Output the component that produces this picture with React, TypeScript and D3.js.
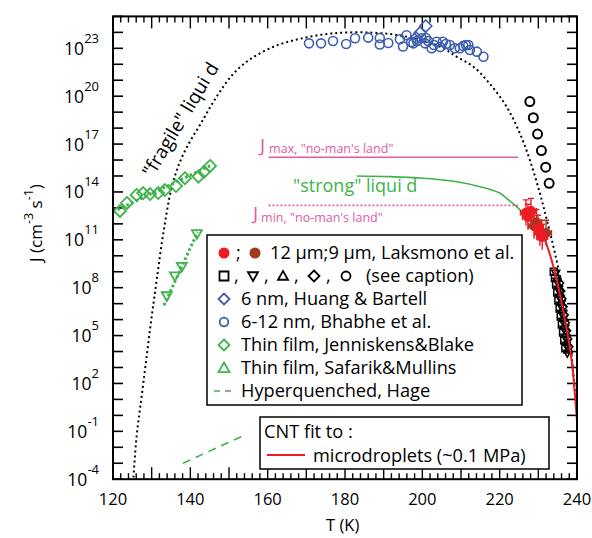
import React from 'react';
import * as d3 from 'd3';

const W = 592, H = 538;
const FX0 = 113, FX1 = 577, FY0 = 16.4, FY1 = 479.2;
const FONT = "'Open Sans', 'Noto Sans', sans-serif";

const xTickLabels = [120, 140, 160, 180, 200, 220, 240];
const yLabelExps = [-4, -1, 2, 5, 8, 11, 14, 17, 20, 23];

const BLUE = '#3b5daf', GREEN = '#3cb44a', MAGENTA = '#e15aa5', RED = '#ed1c24', BROWN = '#a0391e';

// "fragile" liquid dotted curve (T, log10 J)
const fragileT = [125.2, 126.1, 127.4, 128.7, 130.0, 131.3, 133.0, 135.2, 137.5, 140.0, 142.5, 145.1, 147.7, 151.1, 155.4, 161.5, 168.4, 177.0, 187.3, 195.9, 204.6, 208.9, 213.2, 217.5, 221.8, 225.2, 227.8, 230.4, 232.2, 234.3, 237.3, 239.6, 240.3];
const fragileLogJ = [-4.2, -1.33, 1.17, 3.68, 6.18, 8.48, 11.4, 14.3, 16.0, 17.2, 18.2, 19.3, 20.3, 21.4, 22.3, 23.1, 23.6, 23.94, 23.98, 23.73, 23.1, 22.47, 21.85, 20.76, 19.34, 17.68, 16.0, 13.92, 12.24, 10.16, 6.6, 1.15, -0.5];

// "strong" liquid green curve
const strongT = [183.0, 191.6, 200.2, 208.9, 214.9, 220.1, 221.8, 224.4, 226.1];
const strongLogJ = [15.0, 14.96, 14.86, 14.64, 14.33, 13.92, 13.6, 13.08, 12.66];

// CNT fit (red)
const cntT = [226.1, 228.6, 231.3, 233.9, 236.4, 238.6, 239.5, 240.2];
const cntLogJ = [12.56, 12.12, 11.2, 9.32, 6.6, 3.47, 1.17, -1.0];

// J max / J min no-man's land lines
const jLineT = [160.2, 224.8];
const jMaxLogJ = 16.17;
const jMinLogJ = 13.16;

// Bhabhe et al. 6-12 nm (blue circles)
const bhabheT = [170.7, 173.8, 176.9, 180.3, 182.6, 186.0, 189.0, 189.0, 191.2, 194.2, 195.0, 195.9, 197.1, 197.7, 198.6, 199.8, 200.7, 201.5, 202.4, 203.7, 204.6, 205.3, 206.1, 207.1, 208.4, 209.7, 210.6, 211.3, 211.9, 212.3, 214.1, 215.8, 203.0, 200.9];
const bhabheLogJ = [23.31, 23.31, 23.46, 23.27, 23.63, 23.67, 23.65, 23.24, 23.33, 23.57, 23.11, 23.82, 23.40, 23.31, 23.46, 23.63, 23.31, 23.46, 23.0, 23.41, 23.08, 23.41, 23.27, 23.21, 23.0, 23.0, 23.15, 23.21, 23.21, 22.89, 22.79, 22.47, 23.21, 23.65];

// Huang & Bartell 6 nm (blue diamonds)
const huangT = [200.9, 199.4, 198.4];
const huangLogJ = [24.4, 23.96, 23.65];

// Black circles (see caption)
const circT = [227.8, 228.7, 229.8, 230.8, 231.9, 232.8];
const circLogJ = [19.66, 18.65, 17.63, 16.59, 15.55, 14.54];

// Black squares / triangles / diamonds (see caption)
const sqT = [234.0, 234.3, 234.6, 234.9, 235.2, 235.5, 235.8, 236.1, 236.4, 236.7, 237.0];
const sqLogJ = [9.0, 8.6, 8.2, 7.7, 7.2, 6.7, 6.2, 5.7, 5.2, 4.7, 4.2];
const dnT = [234.5, 234.8, 235.1, 235.4, 235.7, 236.0, 236.3, 236.6, 236.9, 237.2, 237.5];
const dnLogJ = [8.9, 8.4, 7.9, 7.4, 6.9, 6.4, 5.9, 5.4, 4.9, 4.4, 3.9];
const upT = [235.0, 235.3, 235.6, 235.9, 236.2, 236.5, 236.8, 237.1, 237.4, 237.7];
const upLogJ = [8.6, 8.1, 7.6, 7.1, 6.6, 6.1, 5.6, 5.1, 4.6, 4.1];
const diaT = [235.5, 235.8, 236.1, 236.4, 236.7, 237.0, 237.3, 237.6, 237.9];
const diaLogJ = [8.3, 7.8, 7.3, 6.8, 6.3, 5.8, 5.3, 4.8, 4.3];

// Laksmono et al. 12 um (red) and 9 um (brown)
const redT = [226.8, 227.3, 228.1, 229.9, 230.4, 231.0];
const redLogJ = [12.7, 12.43, 12.8, 11.74, 11.43, 11.18];
const brownT = [228.9, 229.5, 232.0];
const brownLogJ = [11.87, 12.1, 11.43];
const errT = 1.4;
const errLogJ = 0.8;

// Jenniskens & Blake thin film (green diamonds)
const jennT = [121.8, 123.6, 126.1, 127.8, 129.6, 131.7, 133.4, 136.3, 138.6, 142.1, 143.5, 145.1];
const jennLogJ = [12.81, 13.31, 13.81, 13.93, 13.87, 13.93, 14.12, 14.37, 14.86, 14.96, 15.25, 15.63];
const jennLineT = [120.0, 145.6];
const jennLineLogJ = [12.75, 15.7];

// Safarik & Mullins thin film (green triangles)
const safT = [133.9, 136.0, 137.8, 141.7];
const safLogJ = [7.48, 8.73, 9.32, 11.37];
const safLineT = [133.2, 141.9];
const safLineLogJ = [6.9, 11.5];

// Hyperquenched, Hage (green dashed)
const hageT = [138.1, 154.4];
const hageLogJ = [-3.0, -1.2];

const legendLabels = [
  '12 \u03bcm;9 \u03bcm, Laksmono et al.',
  '(see caption)',
  '6 nm, Huang & Bartell',
  '6-12 nm, Bhabhe  et al.',
  'Thin film, Jenniskens&Blake',
  'Thin film, Safarik&Mullins',
  'Hyperquenched, Hage',
];

const x = d3.scaleLinear().domain([120, 240]).range([FX0, FX1]);
const y = d3.scaleLinear().domain([-4, 25]).range([FY1, FY0]);

const sq = (cx: number, cy: number, s: number) => `M${cx - s},${cy - s}H${cx + s}V${cy + s}H${cx - s}Z`;
const dia = (cx: number, cy: number, s: number) => `M${cx},${cy - s}L${cx + s},${cy}L${cx},${cy + s}L${cx - s},${cy}Z`;
const triUp = (cx: number, cy: number, s: number) => `M${cx},${cy - s}L${cx + s},${cy + s * 0.75}L${cx - s},${cy + s * 0.75}Z`;
const triDn = (cx: number, cy: number, s: number) => `M${cx},${cy + s}L${cx + s},${cy - s * 0.75}L${cx - s},${cy - s * 0.75}Z`;

function linePath(ts: number[], ls: number[], curve: any = d3.curveCatmullRom) {
  const pts = ts.map((t, i) => [t, ls[i]] as [number, number]);
  return d3.line<[number, number]>().x(d => x(d[0])).y(d => y(d[1])).curve(curve)(pts) || '';
}

export default function App() {
  const xMinor = d3.range(120, 241, 2);
  const yDec = d3.range(-4, 26, 1);
  const legY = [253, 276, 299, 322, 345, 368, 391];
  const mx = 224, tx = 241;
  const LF = 18.2;

  return (
    <div style={{ position: 'absolute', left: 0, top: 0 }}>
      <svg width={W} height={H} style={{ display: 'block', fontFamily: FONT }}>
        <rect x={0} y={0} width={W} height={H} fill="#fff" />
        <defs>
          <clipPath id="plot">
            <rect x={FX0} y={FY0} width={FX1 - FX0} height={FY1 - FY0} />
          </clipPath>
        </defs>

        {/* ticks */}
        {xMinor.map(t => {
          const major = t % 10 === 0;
          const len = major ? 12 : 6;
          return (
            <g key={'xt' + t} stroke="#000" strokeWidth={1.4}>
              <line x1={x(t)} x2={x(t)} y1={FY1} y2={FY1 - len} />
              <line x1={x(t)} x2={x(t)} y1={FY0} y2={FY0 + len} />
            </g>
          );
        })}
        {yDec.map(e => (
          <g key={'yt' + e} stroke="#000" strokeWidth={1.6}>
            <line x1={FX0} x2={FX0 + 10} y1={y(e)} y2={y(e)} />
            <line x1={FX1} x2={FX1 - 10} y1={y(e)} y2={y(e)} />
          </g>
        ))}

        {/* tick labels */}
        {xTickLabels.map(t => (
          <text key={'xl' + t} x={x(t)} y={505} fontSize={16.5} textAnchor="middle">{t}</text>
        ))}
        {yLabelExps.map(e => (
          <text key={'yl' + e} x={99} y={y(e) + 6.5} fontSize={17.5} textAnchor="end">
            10<tspan dy={-12} fontSize={13}>{e}</tspan>
          </text>
        ))}
        <text x={342.7} y={531} fontSize={16.5} textAnchor="middle">T  (K)</text>
        <text transform="translate(42,223) rotate(-90)" fontSize={17} textAnchor="middle">
          J (cm<tspan dy={-9} fontSize={12.5}>-3</tspan><tspan dy={9}> s</tspan><tspan dy={-9} fontSize={12.5}>-1</tspan><tspan dy={9}>)</tspan>
        </text>

        <g clipPath="url(#plot)">
          {/* fragile curve */}
          <path d={linePath(fragileT, fragileLogJ)} fill="none" stroke="#000" strokeWidth={2} strokeDasharray="2,3" />
          {/* strong curve */}
          <path d={linePath(strongT, strongLogJ)} fill="none" stroke={GREEN} strokeWidth={1.6} />
          {/* J max / min */}
          <line x1={x(jLineT[0])} x2={x(jLineT[1])} y1={y(jMaxLogJ)} y2={y(jMaxLogJ)} stroke={MAGENTA} strokeWidth={1.6} />
          <line x1={x(jLineT[0])} x2={x(jLineT[1])} y1={y(jMinLogJ)} y2={y(jMinLogJ)} stroke={MAGENTA} strokeWidth={1.6} strokeDasharray="2,2" />

          {/* Jenniskens line + markers */}
          <path d={linePath(jennLineT, jennLineLogJ, d3.curveLinear)} fill="none" stroke={GREEN} strokeWidth={3} strokeDasharray="2.5,2.5" />
          {jennT.map((t, i) => (
            <path key={'jn' + i} d={dia(x(t), y(jennLogJ[i]), 6)} fill="none" stroke={GREEN} strokeWidth={1.8} />
          ))}
          {/* Safarik line + markers */}
          <path d={linePath(safLineT, safLineLogJ, d3.curveLinear)} fill="none" stroke={GREEN} strokeWidth={3} strokeDasharray="2.5,2.5" />
          {safT.map((t, i) => (
            <path key={'sf' + i} d={triDn(x(t), y(safLogJ[i]), 5)} fill="none" stroke={GREEN} strokeWidth={1.8} />
          ))}
          {/* Hage */}
          <path d={linePath(hageT, hageLogJ, d3.curveLinear)} fill="none" stroke={GREEN} strokeWidth={1.6} strokeDasharray="8,6" />

          {/* Bhabhe */}
          {bhabheT.map((t, i) => (
            <circle key={'bh' + i} cx={x(t)} cy={y(bhabheLogJ[i])} r={4.5} fill="none" stroke={BLUE} strokeWidth={1.6} />
          ))}
          {huangT.map((t, i) => (
            <path key={'hu' + i} d={dia(x(t), y(huangLogJ[i]), 6)} fill="none" stroke={BLUE} strokeWidth={1.6} />
          ))}

          {/* black circles */}
          {circT.map((t, i) => (
            <circle key={'bc' + i} cx={x(t)} cy={y(circLogJ[i])} r={4.5} fill="none" stroke="#000" strokeWidth={2} />
          ))}
          {/* black open markers cluster */}
          {sqT.map((t, i) => (
            <path key={'sq' + i} d={sq(x(t), y(sqLogJ[i]), 3.5)} fill="none" stroke="#000" strokeWidth={1.5} />
          ))}
          {dnT.map((t, i) => (
            <path key={'dn' + i} d={triDn(x(t), y(dnLogJ[i]), 4)} fill="none" stroke="#000" strokeWidth={1.5} />
          ))}
          {upT.map((t, i) => (
            <path key={'up' + i} d={triUp(x(t), y(upLogJ[i]), 4)} fill="none" stroke="#000" strokeWidth={1.5} />
          ))}
          {diaT.map((t, i) => (
            <path key={'di' + i} d={dia(x(t), y(diaLogJ[i]), 4)} fill="none" stroke="#000" strokeWidth={1.5} />
          ))}

          {/* CNT fit */}
          <path d={linePath(cntT, cntLogJ)} fill="none" stroke={RED} strokeWidth={2} />

          {/* Laksmono error bars and points */}
          {brownT.map((t, i) => {
            const cx = x(t), cy = y(brownLogJ[i]);
            const x0 = x(t - errT), x1 = x(t + errT), y0 = y(brownLogJ[i] + errLogJ), y1 = y(brownLogJ[i] - errLogJ);
            return (
              <g key={'br' + i} stroke={BROWN} strokeWidth={1.4}>
                <line x1={x0} x2={x1} y1={cy} y2={cy} />
                <line x1={cx} x2={cx} y1={y0} y2={y1} />
                <line x1={cx - 3} x2={cx + 3} y1={y0} y2={y0} />
                <line x1={x0} x2={x0} y1={cy - 3} y2={cy + 3} />
                <line x1={x1} x2={x1} y1={cy - 3} y2={cy + 3} />
                <circle cx={cx} cy={cy} r={5} fill={BROWN} stroke="none" />
              </g>
            );
          })}
          {redT.map((t, i) => {
            const cx = x(t), cy = y(redLogJ[i]);
            const x0 = x(t - errT), x1 = x(t + errT), y0 = y(redLogJ[i] + errLogJ), y1 = y(redLogJ[i] - errLogJ);
            return (
              <g key={'rd' + i} stroke={RED} strokeWidth={1.4}>
                <line x1={x0} x2={x1} y1={cy} y2={cy} />
                <line x1={cx} x2={cx} y1={y0} y2={y1} />
                <line x1={cx - 3} x2={cx + 3} y1={y0} y2={y0} />
                <line x1={x0} x2={x0} y1={cy - 3} y2={cy + 3} />
                <line x1={x1} x2={x1} y1={cy - 3} y2={cy + 3} />
                <circle cx={cx} cy={cy} r={5} fill={RED} stroke="none" />
              </g>
            );
          })}
        </g>

        {/* frame */}
        <rect x={FX0} y={FY0} width={FX1 - FX0} height={FY1 - FY0} fill="none" stroke="#000" strokeWidth={2} />

        {/* annotations */}
        <text transform="translate(186,123) rotate(-59)" fontSize={19} textAnchor="middle">"fragile" liqui d</text>
        <text x={293} y={192} fontSize={18} fill={GREEN}>"strong" liqui d</text>
        <text x={260} y={152} fontSize={19} fill={MAGENTA}>J<tspan dx={4} dy={1} fontSize={12.5}>max, "no-man's land"</tspan></text>
        <text x={253} y={220} fontSize={19} fill={MAGENTA}>J<tspan dx={3} dy={2} fontSize={12.5}>min, "no-man's land"</tspan></text>

        {/* legend 1 */}
        <rect x={207} y={235} width={315} height={170} fill="#fff" stroke="#000" strokeWidth={1.5} />
        <circle cx={mx} cy={legY[0]} r={5.5} fill={RED} />
        <text x={236} y={legY[0] + 6} fontSize={LF}>;</text>
        <circle cx={255} cy={legY[0]} r={5.5} fill={BROWN} />
        <text x={270} y={legY[0] + 6} fontSize={LF}>{legendLabels[0]}</text>

        <path d={sq(mx, legY[1], 4.5)} fill="none" stroke="#000" strokeWidth={1.8} />
        <text x={234} y={legY[1] + 6} fontSize={LF}>,</text>
        <path d={triDn(253, legY[1], 5)} fill="none" stroke="#000" strokeWidth={1.8} />
        <text x={264} y={legY[1] + 6} fontSize={LF}>,</text>
        <path d={triUp(283, legY[1], 5)} fill="none" stroke="#000" strokeWidth={1.8} />
        <text x={294} y={legY[1] + 6} fontSize={LF}>,</text>
        <path d={dia(314, legY[1], 5.5)} fill="none" stroke="#000" strokeWidth={1.8} />
        <text x={326} y={legY[1] + 6} fontSize={LF}>,</text>
        <circle cx={346} cy={legY[1]} r={4.5} fill="none" stroke="#000" strokeWidth={1.8} />
        <text x={366} y={legY[1] + 6} fontSize={LF}>{legendLabels[1]}</text>

        <path d={dia(mx, legY[2], 5.5)} fill="none" stroke={BLUE} strokeWidth={1.8} />
        <text x={tx} y={legY[2] + 6} fontSize={LF}>{legendLabels[2]}</text>
        <circle cx={mx} cy={legY[3]} r={4.3} fill="none" stroke={BLUE} strokeWidth={1.8} />
        <text x={tx} y={legY[3] + 6} fontSize={LF}>{legendLabels[3]}</text>
        <path d={dia(mx, legY[4], 5.5)} fill="none" stroke={GREEN} strokeWidth={1.8} />
        <text x={tx} y={legY[4] + 6} fontSize={LF}>{legendLabels[4]}</text>
        <path d={triUp(mx, legY[5], 5.5)} fill="none" stroke={GREEN} strokeWidth={1.8} />
        <text x={tx} y={legY[5] + 6} fontSize={LF}>{legendLabels[5]}</text>
        <line x1={214} x2={234} y1={legY[6]} y2={legY[6]} stroke={GREEN} strokeWidth={1.6} strokeDasharray="6,5" />
        <text x={tx} y={legY[6] + 6} fontSize={LF}>{legendLabels[6]}</text>

        {/* legend 2 */}
        <rect x={260} y={417} width={289} height={52} fill="#fff" stroke="#000" strokeWidth={1.5} />
        <text x={264} y={438} fontSize={LF}>CNT fit to :</text>
        <line x1={267} x2={305} y1={455} y2={455} stroke={RED} strokeWidth={2} />
        <text x={313} y={462} fontSize={LF}>microdroplets (~0.1 MPa)</text>
      </svg>
    </div>
  );
}
